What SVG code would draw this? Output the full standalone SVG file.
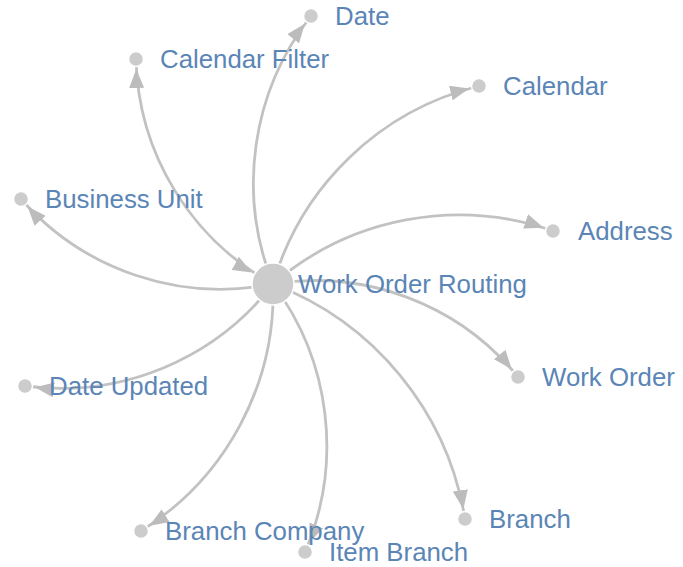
<svg xmlns="http://www.w3.org/2000/svg" width="683" height="567" viewBox="0 0 683 567">
<style>
.link{fill:none;stroke:#c2c2c2;stroke-width:2.8}
.node circle{fill:#cccccc;stroke:#ffffff;stroke-width:1.5}
.node text{font-family:"Liberation Sans",Arial,Helvetica,sans-serif;font-size:25.8px;fill:#5a85b6}
</style>
<defs>
<marker id="arr" viewBox="0 -7.5 19 15" refX="29" refY="0" markerWidth="19" markerHeight="15" markerUnits="userSpaceOnUse" orient="auto">
<path d="M0,-7.5L19,0L0,7.5Z" fill="#bcbcbc"/>
</marker>
<marker id="arrS" viewBox="0 -7.5 19 15" refX="43" refY="0" markerWidth="19" markerHeight="15" markerUnits="userSpaceOnUse" orient="auto-start-reverse">
<path d="M0,-7.5L19,0L0,7.5Z" fill="#bcbcbc"/>
</marker>
</defs>
<g id="connectors">
<path class="link" marker-end="url(#arr)" d="M273,284A270.7,270.7 0 0 1 311,16"/>
<path class="link" marker-start="url(#arrS)" marker-end="url(#arr)" d="M273,284A263.4,263.4 0 0 1 136,59"/>
<path class="link" marker-end="url(#arr)" d="M273,284A285.7,285.7 0 0 1 479,86"/>
<path class="link" marker-end="url(#arr)" d="M273,284A285,285 0 0 1 553,231"/>
<path class="link" marker-end="url(#arr)" d="M273,284A262.1,262.1 0 0 1 518,377"/>
<path class="link" marker-end="url(#arr)" d="M273,284A265.9,265.9 0 0 1 21,199"/>
<path class="link" marker-end="url(#arr)" d="M273,284A268.2,268.2 0 0 1 25,386"/>
<path class="link" marker-end="url(#arr)" d="M273,284A280.1,280.1 0 0 1 141,531"/>
<path class="link" marker-end="url(#arr)" d="M273,284A269.9,269.9 0 0 1 305,552"/>
<path class="link" marker-end="url(#arr)" d="M273,284A303.5,303.5 0 0 1 465,519"/>
</g>
<g id="work-order-routing" class="node"><circle cx="273" cy="284" r="21"/><text x="298" y="293">Work Order Routing</text></g>
<g id="date" class="node"><circle cx="311" cy="16" r="7.5"/><text x="335" y="25">Date</text></g>
<g id="calendar-filter" class="node"><circle cx="136" cy="59" r="7.5"/><text x="160" y="68">Calendar Filter</text></g>
<g id="calendar" class="node"><circle cx="479" cy="86" r="7.5"/><text x="503" y="95">Calendar</text></g>
<g id="address" class="node"><circle cx="553" cy="231" r="7.5"/><text x="578" y="240">Address</text></g>
<g id="work-order" class="node"><circle cx="518" cy="377" r="7.5"/><text x="542" y="386">Work Order</text></g>
<g id="business-unit" class="node"><circle cx="21" cy="199" r="7.5"/><text x="45" y="208">Business Unit</text></g>
<g id="date-updated" class="node"><circle cx="25" cy="386" r="7.5"/><text x="49" y="395">Date Updated</text></g>
<g id="branch-company" class="node"><circle cx="141" cy="531" r="7.5"/><text x="165" y="540">Branch Company</text></g>
<g id="item-branch" class="node"><circle cx="305" cy="552" r="7.5"/><text x="329" y="561">Item Branch</text></g>
<g id="branch" class="node"><circle cx="465" cy="519" r="7.5"/><text x="489" y="528">Branch</text></g>
</svg>
